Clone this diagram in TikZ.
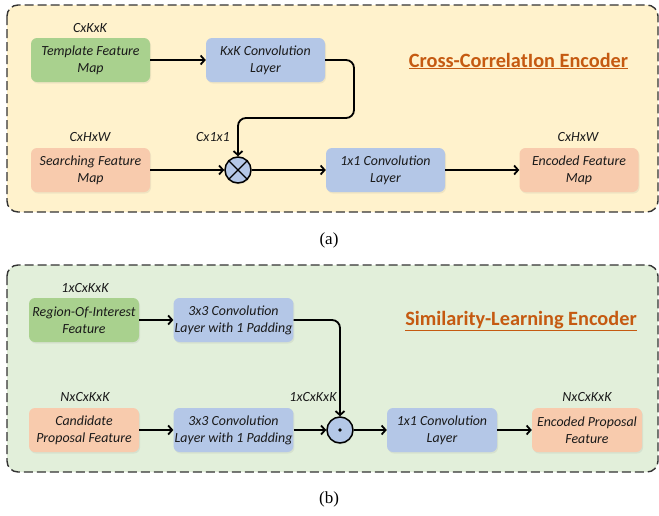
\documentclass[tikz,border=0pt]{standalone}
\usepackage{fontspec}
\setmainfont{Carlito}
\newfontfamily\capfont{Liberation Serif}
\usetikzlibrary{arrows.meta,shadows}
\definecolor{gbox}{HTML}{A9D18E}
\definecolor{bbox}{HTML}{B4C7E7}
\definecolor{obox}{HTML}{F8CBAD}
\definecolor{ybg}{HTML}{FFF2CC}
\definecolor{gbg}{HTML}{E2EFDA}
\definecolor{ttl}{HTML}{C55A11}
\definecolor{txt}{HTML}{1A1A1A}
\begin{document}
\begin{tikzpicture}[x=1pt,y=-1pt,
  panel/.style={draw=black!80, line width=1.4pt, dash pattern=on 9pt off 4pt, rounded corners=11pt},
  box/.style={rounded corners=6pt, minimum height=44pt, align=center, inner sep=1pt,
    text=txt, font=\itshape\fontsize{13.9}{16.8}\selectfont,
    drop shadow={opacity=0.12, shadow xshift=1pt, shadow yshift=-1.5pt}},
  wA/.style={minimum width=119pt},
  wB/.style={minimum width=110pt},
  lbl/.style={font=\itshape\fontsize{14}{15}\selectfont, text=txt},
  ttlstyle/.style={font=\bfseries\fontsize{20.3}{23}\selectfont, text=ttl},
  captxt/.style={font=\capfont\fontsize{17}{19}\selectfont},
  op/.style={circle, draw=black, line width=1.5pt, fill=bbox, minimum size=26pt, inner sep=0pt,
    drop shadow={opacity=0.15, shadow xshift=0.5pt, shadow yshift=-1.5pt}},
  arr/.style={line width=1.8pt, -{Straight Barb[length=4pt,width=9pt,line width=1.8pt]}}
]
\useasboundingbox (0,0) rectangle (659,515);

% panel (a)
\path[panel, fill=ybg] (7,5) rectangle (658,212);
\node[box, wA, fill=gbox] (tfm) at (90.5,60) {Template Feature\\Map};
\node[box, wA, fill=bbox] (kxk) at (265.5,60) {KxK Convolution\\Layer};
\node[box, wA, fill=obox] (sfm) at (90.5,170) {Searching Feature\\Map};
\node[op] (ox) at (238,170) {};
\draw[line width=1.4pt] (ox.45) -- (ox.225) (ox.135) -- (ox.315);
\node[box, wA, fill=bbox] (c11a) at (385.5,170) {1x1 Convolution\\Layer};
\node[box, wA, fill=obox] (efm) at (579,170) {Encoded Feature\\Map};
\node[lbl] (l1) at (90,28) {CxKxK};
\node[lbl] (l2) at (90,137) {CxHxW};
\node[lbl] (l3) at (213,137) {Cx1x1};
\node[lbl] (l4) at (578,137) {CxHxW};
\node[ttlstyle] (t1) at (518.5,61) {\underline{Cross-CorrelatIon Encoder}};
\coordinate (k1) at (354,118);
\draw[arr] (tfm) -- (kxk);
\draw[arr, rounded corners=8pt] (kxk.east) -| (k1) -| (ox.north);
\draw[arr] (sfm) -- (ox);
\draw[arr] (ox) -- (c11a);
\draw[arr] (c11a) -- (efm);
\node[captxt] (ca) at (329,240) {(a)};

% panel (b)
\path[panel, fill=gbg] (7,265) rectangle (658,472);
\node[box, wB, fill=gbox] (roi) at (84,320) {Region-Of-Interest\\Feature};
\node[box, wA, fill=bbox] (c3a) at (233.5,320) {3x3 Convolution\\Layer with 1 Padding};
\node[box, wB, fill=obox] (cpf) at (84,430) {Candidate\\Proposal Feature};
\node[box, wA, fill=bbox] (c3b) at (233.5,430) {3x3 Convolution\\Layer with 1 Padding};
\node[op] (od) at (340,430) {};
\fill (od.center) circle (1.8pt);
\node[box, wB, fill=bbox] (c11b) at (442,430) {1x1 Convolution\\Layer};
\node[box, wB, fill=obox] (epf) at (587,430) {Encoded Proposal\\Feature};
\node[lbl] (m1) at (85,288) {1xCxKxK};
\node[lbl] (m2) at (85,397) {NxCxKxK};
\node[lbl] (m3) at (313,397) {1xCxKxK};
\node[lbl] (m4) at (587,397) {NxCxKxK};
\node[ttlstyle] (t2) at (521,321) {\underline{Similarity-Learning Encoder}};
\draw[arr] (roi) -- (c3a);
\draw[arr, rounded corners=8pt] (c3a.east) -| (od.north);
\draw[arr] (cpf) -- (c3b);
\draw[arr] (c3b) -- (od);
\draw[arr] (od) -- (c11b);
\draw[arr] (c11b) -- (epf);
\node[captxt] (cb) at (329,499) {(b)};
\end{tikzpicture}
\end{document}
